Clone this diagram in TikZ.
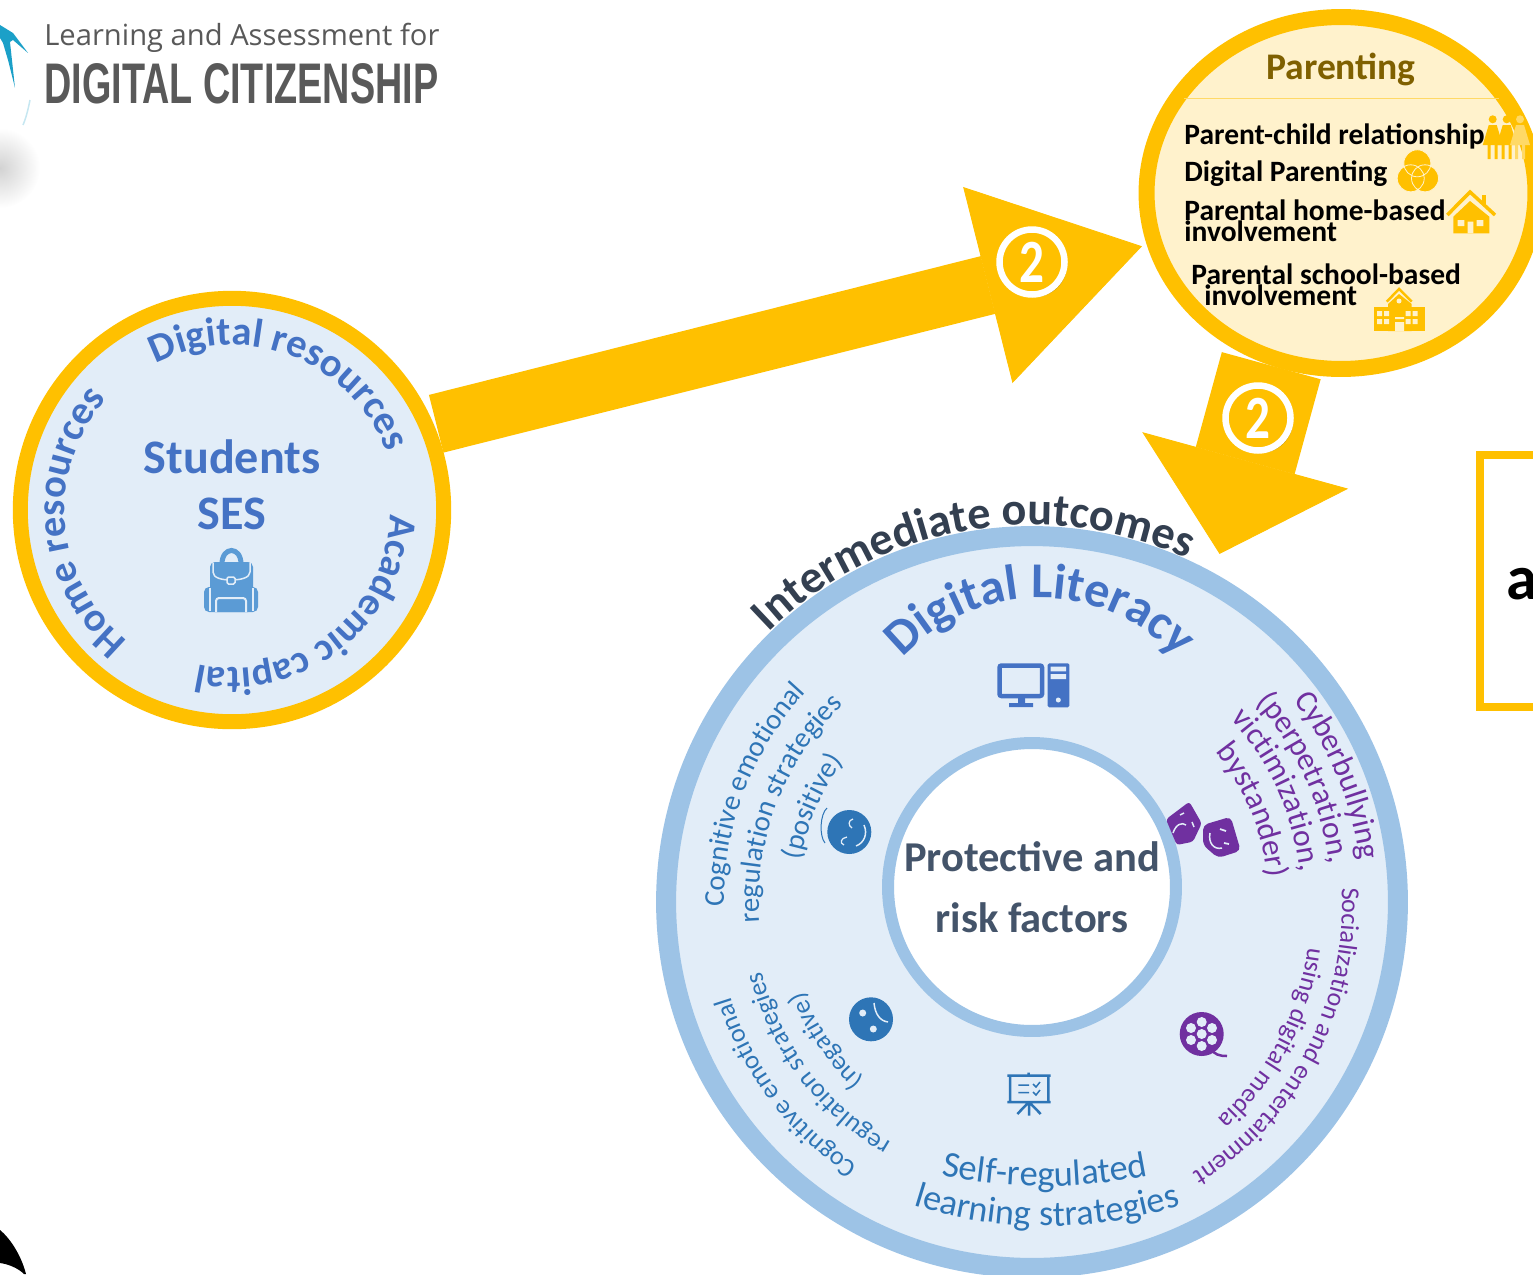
\documentclass[tikz,border=0pt]{standalone}
\usepackage{fontspec}
\usepackage{graphicx}
\setmainfont{Carlito}
\newfontfamily\logofont{Open Sans}
\newfontfamily\logotall{Liberation Sans}
\usetikzlibrary{arrows.meta,shapes.geometric,positioning,shadows,decorations.text}
\definecolor{gold}{HTML}{FFC000}
\definecolor{cream}{HTML}{FFF2CC}
\definecolor{umber}{HTML}{7F6000}
\definecolor{rule}{HTML}{FFD966}
\definecolor{pale}{HTML}{E2EDF8}
\definecolor{sky}{HTML}{9DC3E6}
\definecolor{royal}{HTML}{4472C4}
\definecolor{bag}{HTML}{5B9BD5}
\definecolor{ocean}{HTML}{2E75B6}
\definecolor{grape}{HTML}{7030A0}
\definecolor{slate}{HTML}{44546A}
\definecolor{navy}{HTML}{333F50}
\definecolor{logogray}{HTML}{595959}
\definecolor{teal}{HTML}{1BA0C8}
\newcommand{\fs}[1]{\fontsize{#1}{#1}\selectfont}
\newcommand{\arctext}[6]{\path[decorate,decoration={text along path,text align=center,text={|#5|#6}}] (#1) ++(#3:#2*0.02cm) arc[start angle=#3,end angle=#4,radius=#2*0.02cm];}
\tikzstyle{studentdisc} = [circle, minimum size=8.47cm, inner sep=0pt, draw=gold, line width=0.3cm, fill=pale]
\tikzstyle{parentdisc} = [ellipse, minimum width=7.78cm, minimum height=7.04cm, inner sep=0pt, draw=gold, line width=0.32cm, fill=cream]
\tikzstyle{literacydisc} = [circle, minimum size=14.64cm, inner sep=0pt, draw=sky, line width=0.4cm, fill=pale]
\tikzstyle{holedisc} = [circle, minimum size=5.76cm, inner sep=0pt, draw=sky, line width=0.24cm, fill=white, text=slate, align=center, font=\fs{24.2}\bfseries]
\tikzstyle{numdisc} = [circle, minimum size=1.3cm, inner sep=0pt, draw=white, line width=0.13cm, fill=gold, text=white, font=\fs{35}\bfseries, drop shadow={shadow xshift=0.05cm,shadow yshift=-0.05cm,fill=umber,opacity=0.6}]
\tikzstyle{parentitem} = [anchor=west, inner sep=0pt, align=left, font=\fontsize{16.8}{12}\selectfont\bfseries]
\tikzstyle{studentlabel} = [text=royal, inner sep=0pt, font=\fs{27.4}\bfseries]

\begin{document}
\begin{tikzpicture}[x=0.02cm,y=0.02cm]
	\clip (0,-1274) rectangle (1533,0);
	
	%logo
	\shade[inner color=gray!35, outer color=white] (0,-168) circle[radius=0.8cm];
	\fill[teal] (0,-25) -- (13,-33) -- (28,-53) -- (13,-40) -- (10,-42) -- (15,-88) -- (8,-60) -- (3,-43) -- (0,-38) -- cycle;
	\draw[teal!25, line width=0.03cm] (30,-100) .. controls (28,-110) and (26,-118) .. (23,-125);
	\fill[black] (0,-1230) .. controls (12,-1240) and (22,-1258) .. (26,-1274) -- (24,-1274) .. controls (18,-1268) and (8,-1264) .. (0,-1263) -- cycle;
	\node[anchor=west, inner sep=0pt, text=logogray, font=\logofont\fs{16.6}] (logotop) at (44,-38) {Learning and Assessment for};
	\node[anchor=north west, inner sep=0pt, text=logogray] (logobottom) at (44,-63) {\resizebox{7.88cm}{0.8cm}{\logotall\bfseries DIGITAL CITIZENSHIP}};
	
	%discs
	\node[studentdisc] (students) at (232,-510) {};
	\node[parentdisc] (parenting) at (1341,-193) {};
	\node[literacydisc] (literacy) at (1032,-902) {};
	\node[holedisc] (factors) at (1032,-887) {Protective and\\[0.38cm]risk factors};
	\draw[gold, line width=0.16cm] (1480,-455) rectangle (1560,-707);
	\node[anchor=west, inner sep=0pt, font=\fs{36}\bfseries] (outcome) at (1506,-584) {a};
	
	%arrow
	\draw[-{Triangle[length=3.18cm,width=4.04cm,line width=0.5pt]}, gold, line width=1.19cm, shorten <=0.05cm, shorten >=0.1cm] (students.23) -- (parenting.195);
	\draw[-{Triangle[length=1.94cm,width=4.27cm,line width=0.5pt]}, gold, line width=2.05cm, shorten >=0.4cm] (parenting.248.5) -- (literacy.61.3);
	\node[numdisc] (numa) at (1032,-262) {\scalebox{0.8}[1]{2}};
	\node[numdisc] (numb) at (1258,-418) {\scalebox{0.8}[1]{2}};
	
	%students
	\node[studentlabel] (studentname) at (232,-457) {Students};
	\node[studentlabel, below=0.47cm of studentname] (studentses) {SES};
	\arctext{232,-510}{165}{149}{-11}{\fs{23}\bfseries\color{royal}}{Digital resources}
	\arctext{232,-510}{167}{265}{105}{\fs{23}\bfseries\color{royal}}{Home resources}
	\arctext{232,-510}{158}{28}{-132}{\fs{22.5}\bfseries\color{royal}}{Academic capital}
	% backpack
	\draw[bag, line width=0.1cm] (222,-564) .. controls (222,-546) and (241,-546) .. (241,-564);
	\fill[bag, rounded corners=0.1cm] (210,-612) rectangle (253,-562);
	\fill[bag, rounded corners=0.1cm] (204,-612) rectangle (258,-587);
	\draw[pale, line width=0.03cm] (213,-563) -- (213,-572) .. controls (213,-578) and (222,-580) .. (231,-580) .. controls (240,-580) and (250,-578) .. (250,-572) -- (250,-563);
	\filldraw[fill=bag, draw=pale, line width=0.03cm, rounded corners=0.03cm] (227,-577) rectangle (235,-584);
	\draw[pale, line width=0.04cm, rounded corners=0.06cm] (216,-612) -- (216,-598) -- (246,-598) -- (246,-612);
	\draw[pale, line width=0.03cm] (210,-588) -- (210,-611) (253,-588) -- (253,-611);
	
	%parenting
	\node[text=umber, inner sep=0pt, font=\fs{21.4}\bfseries] (parenttitle) at (1341,-69) {Parenting};
	\draw[rule, line width=0.03cm] (1184,-98.5) -- (1499,-98.5);
	\node[parentitem] (itema) at (1184,-136) {Parent-child relationship};
	\node[parentitem] (itemb) at (1184,-174) {Digital Parenting};
	\node[parentitem] (itemc) at (1184,-221) {Parental home-based\\involvement};
	\node[parentitem] (itemd) at (1191,-285) {Parental school-based\\\hspace*{0.26cm}involvement};
	% people
	\foreach \px/\pc in {1492.7/gold,1506.7/gold,1520/rule}{
		\fill[\pc] (\px,-119.3) circle[radius=0.08cm];
		\fill[\pc] (\px-4,-125) -- (\px+4,-125) -- (\px+10,-145) -- (\px-10,-145) -- cycle;
		\fill[\pc] (\px-5,-145) rectangle (\px-2,-159) (\px+2,-145) rectangle (\px+5,-159);
	}
	% venn
	\fill[gold] (1417.3,-163.3) circle[radius=0.27cm] (1410.7,-178.3) circle[radius=0.27cm] (1425,-178.3) circle[radius=0.27cm];
	\draw[cream, line width=0.016cm] (1417.3,-163.3) circle[radius=0.27cm] (1410.7,-178.3) circle[radius=0.27cm] (1425,-178.3) circle[radius=0.27cm];
	% house
	\draw[gold, line width=0.07cm] (1447.3,-215) -- (1470,-192) -- (1495,-215);
	\fill[gold] (1481.7,-195) rectangle (1486,-205);
	\fill[gold] (1453.3,-233.3) -- (1453.3,-216.7) -- (1470,-201) -- (1489.3,-216.7) -- (1489.3,-233.3) -- cycle;
	\fill[cream] (1457.7,-220) rectangle (1464.3,-226) (1476.7,-220) rectangle (1483.3,-226) (1467.7,-221.7) rectangle (1473.3,-233.3);
	% school
	\draw[gold, line width=0.05cm] (1386.7,-301.7) -- (1399,-289) -- (1411.7,-301.7);
	\fill[gold] (1374,-331) rectangle (1425,-306.7);
	\fill[gold] (1388,-331) -- (1388,-304) -- (1399,-294) -- (1411.7,-304) -- (1411.7,-331) -- cycle;
	\foreach \wx in {1377,1384,1405.5,1412.5}{
		\fill[cream] (\wx,-311) rectangle (\wx+5,-316) (\wx,-319) rectangle (\wx+5,-324);
	}
	\fill[cream] (1395,-317) rectangle (1404,-319) (1395,-331) rectangle (1404,-322);
	\fill[cream] (1399,-301) circle[radius=0.05cm];
	
	%literacy
	\arctext{1032,-902}{377}{150}{50}{\fs{26.3}\bfseries\color{navy}}{Intermediate outcomes}
	\arctext{1040,-785}{187}{165}{15}{\fs{28.5}\bfseries\color{royal}}{Digital Literacy}
	% computer
	\draw[royal, line width=0.09cm, rounded corners=0.04cm] (999.5,-665.5) rectangle (1042,-696);
	\fill[royal] (1018,-698) rectangle (1025,-703) (1009,-703) rectangle (1033,-707);
	\fill[royal, rounded corners=0.03cm] (1047.7,-663.3) rectangle (1069.3,-707.3);
	\fill[pale] (1050.7,-666.7) rectangle (1066,-671.3) (1050.7,-674) rectangle (1066,-679) (1058.3,-700) circle[radius=0.05cm];
	% positive side
	\arctext{1032,-902}{308}{206.5}{111.5}{\fs{16.4}\color{ocean}}{Cognitive emotional}
	\arctext{1032,-902}{273}{206.5}{111.5}{\fs{16.4}\color{ocean}}{regulation strategies}
	\arctext{1032,-902}{235}{201.5}{111.5}{\fs{16.4}\color{ocean}}{(positive)}
	\fill[ocean] (849.3,-832) circle[radius=0.44cm];
	\draw[pale, line width=0.025cm] (853,-819) .. controls (848,-820) and (848,-826) .. (852,-828);
	\draw[pale, line width=0.025cm] (847,-837) .. controls (841,-838) and (839,-843) .. (844,-845);
	\draw[pale, line width=0.03cm] (864,-825) .. controls (868,-834) and (864,-843) .. (856,-846);
	\draw[ocean, line width=0.02cm] (827,-808) .. controls (820,-814) and (819,-836) .. (825,-843);
	% cyberbullying
	\arctext{1032,-902}{330}{60}{-15}{\fs{18}\color{grape}}{Cyberbullying}
	\arctext{1032,-902}{300}{62}{-13}{\fs{18}\color{grape}}{(perpetration,}
	\arctext{1032,-902}{270}{62}{-13}{\fs{18}\color{grape}}{victimization,}
	\arctext{1032,-902}{237}{60}{-15}{\fs{18}\color{grape}}{bystander)}
	\fill[grape, rounded corners=0.06cm] (1166,-819.3) -- (1189.3,-801.7) -- (1201.7,-823.3) -- (1193,-841.7) -- (1176.7,-845) -- cycle;
	\fill[grape, rounded corners=0.1cm] (1203,-825) -- (1230.7,-816.7) -- (1240.7,-850.7) -- (1218,-858) -- (1203,-845) -- cycle;
	\draw[pale, line width=0.03cm] (1173,-833) .. controls (1176,-824) and (1182,-822) .. (1186,-825);
	\draw[pale, line width=0.03cm] (1180,-815) -- (1184,-813) (1192,-822) -- (1194,-827);
	\draw[pale, line width=0.03cm] (1210,-833) .. controls (1208,-843) and (1214,-850) .. (1222,-848);
	\draw[pale, line width=0.035cm] (1220,-829) -- (1226,-831) (1224,-843) -- (1229,-844);
	% socialization
	\arctext{1027,-905}{315}{32.4}{-87.6}{\fs{14.8}\color{grape}}{Socialization and entertainment}
	\arctext{1032,-912}{278}{32.3}{-87.7}{\fs{14.8}\color{grape}}{using digital media}
	\fill[grape] (1201.7,-1034) circle[radius=0.44cm];
	\foreach \hx/\hy in {1201.7/-1034,1201.7/-1022,1191/-1028,1212/-1028,1191/-1040,1212/-1040,1201.7/-1046}{
		\fill[pale] (\hx,\hy) circle[radius=0.1cm];
	}
	\draw[grape, line width=0.05cm] (1209,-1047) .. controls (1214,-1055) and (1220,-1056) .. (1227,-1056);
	% self-regulated
	\arctext{1045,-661}{525}{240}{300}{\fs{20.8}\color{ocean}}{Self-regulated}
	\arctext{1047,-781}{445}{235}{305}{\fs{20.6}\color{ocean}}{learning strategies}
	\draw[ocean, line width=0.05cm] (1007.3,-1075.7) -- (1050.7,-1075.7) (1028.7,-1072.7) -- (1028.7,-1075.7) (1010,-1075.7) -- (1010,-1102) (1048.3,-1075.7) -- (1048.3,-1102) (1007.3,-1102) -- (1050.7,-1102) (1029,-1102) -- (1029,-1115.7) (1029,-1102) -- (1017.3,-1114) (1029,-1102) -- (1040.7,-1114);
	\draw[ocean, line width=0.03cm] (1018.3,-1085) -- (1029,-1085) (1018.3,-1092.7) -- (1029,-1092.7) (1033,-1084) -- (1036,-1087) -- (1040,-1082) (1033,-1092) -- (1036,-1095) -- (1040,-1090);
	% negative side
	\arctext{1032,-902}{316}{267}{167}{\fs{15}\color{ocean}}{Cognitive emotional}
	\arctext{1032,-902}{279}{267}{167}{\fs{15}\color{ocean}}{regulation strategies}
	\arctext{1032,-902}{245}{264}{164}{\fs{15}\color{ocean}}{(negative)}
	\fill[ocean] (871,-1019.3) circle[radius=0.44cm];
	\fill[pale] (862.7,-1013) circle[radius=0.07cm] (873.3,-1029) circle[radius=0.07cm];
	\draw[pale, line width=0.03cm] (874,-1003) .. controls (875,-1014) and (880,-1021) .. (888,-1022);
\end{tikzpicture}
\end{document}
